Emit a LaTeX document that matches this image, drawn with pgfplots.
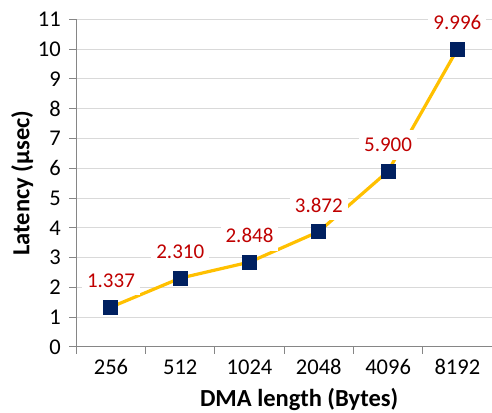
\documentclass[border=0pt]{standalone}
\usepackage{pgfplots}
\pgfplotsset{compat=1.18}
\usepackage{fontspec}
\setmainfont{Carlito}
\definecolor{lineyellow}{HTML}{FFC000}
\definecolor{marknavy}{HTML}{002060}
\definecolor{labelred}{HTML}{C00000}
\definecolor{gridgray}{HTML}{D9D9D9}
\definecolor{axisgray}{HTML}{868686}
\begin{document}
\begin{tikzpicture}
\path[use as bounding box] (-76.3bp,-65.3bp) rectangle (415.4bp,346.7bp);
\begin{axis}[
  at={(0,0)}, anchor=south west,
  scale only axis, width=415.4bp, height=327.4bp,
  xmin=-0.5, xmax=5.5, ymin=0, ymax=11,
  xtick={-0.5,0.5,...,5.5},
  x tick label as interval,
  xticklabels={256,512,1024,2048,4096,8192},
  ytick={0,1,...,11},
  axis x line*=bottom, axis y line*=left,
  axis line style={draw=axisgray, line width=0.9bp, -},
  tick style={draw=axisgray, line width=0.9bp},
  tick align=outside, major tick length=7bp,
  ymajorgrids, grid style={draw=gridgray, line width=0.9bp},
  /pgf/number format/assume math mode=true,
  tick label style={font=\fontsize{22.5bp}{26bp}\selectfont, text=black},
  yticklabel style={xshift=-5bp},
  xticklabel style={yshift=-2bp},
  xlabel={\textbf{DMA length (Bytes)}},
  ylabel={\textbf{Latency (µsec)}},
  label style={font=\fontsize{24.5bp}{28bp}\selectfont},
  xlabel style={at={(axis description cs:0.5,0)}, anchor=base, xshift=15bp, yshift=-59.5bp},
  ylabel style={at={(axis description cs:0,0.5)}, anchor=center, yshift=54bp},
  clip=false,
]
\addplot[
  color=lineyellow, line width=3.2bp,
  mark=square*, mark size=7bp,
  mark options={solid, fill=marknavy, draw=marknavy, line width=0bp},
  nodes near coords={\pgfmathprintnumber[fixed,zerofill,precision=3]{\pgfplotspointmeta}},
  every node near coord/.append style={
    anchor=center, yshift=26.5bp, fill=white, text=labelred,
    inner xsep=5bp, inner ysep=8bp,
    font=\fontsize{21bp}{25bp}\selectfont,
    /pgf/number format/assume math mode=true},
] coordinates {
  (0,1.337) (1,2.310) (2,2.848) (3,3.872) (4,5.900) (5,9.996)
};
\end{axis}
\end{tikzpicture}
\end{document}
